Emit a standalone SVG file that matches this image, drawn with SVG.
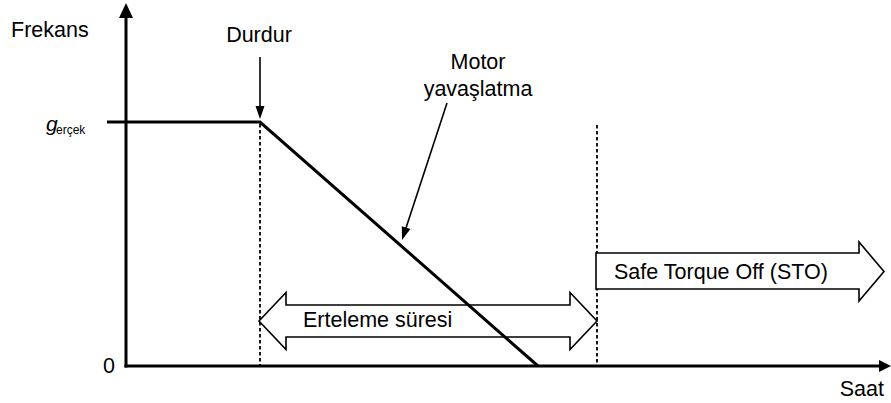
<svg xmlns="http://www.w3.org/2000/svg" width="891" height="403" viewBox="0 0 891 403">
<style>
text{font-family:"Liberation Sans",Arial,sans-serif;fill:#000}
.lbl{font-size:21.5px}
.ax{stroke:#000;stroke-width:3;fill:none}
.dot{stroke:#000;stroke-width:1.8;stroke-dasharray:3.5 2.5;fill:none}
.ln{stroke:#000;stroke-width:1.6;fill:none}
.big{fill:#fff;stroke:#000;stroke-width:1.6;stroke-linejoin:miter}
.hd{fill:#000;stroke:none}
</style>
<rect width="891" height="403" fill="#fff"/>
<g id="markers">
<line class="dot" x1="260" y1="124" x2="260" y2="365"/>
<line class="dot" x1="597" y1="125" x2="597" y2="365"/>
</g>
<g id="erteleme">
<polygon class="big" points="259,321 286,292.5 286,305 570,305 570,292.5 597,321 570,349.5 570,337 286,337 286,349.5"/>
<text class="lbl" x="303" y="327">Erteleme süresi</text>
</g>
<g id="sto">
<polygon class="big" points="596,253 859,253 859,242 884,271.5 859,301 859,289 596,289"/>
<text class="lbl" x="614" y="279">Safe Torque Off (STO)</text>
</g>
<g id="axes">
<line class="ax" x1="126" y1="367.5" x2="126" y2="16"/>
<polygon class="hd" points="119,18 133,18 126,3"/>
<line class="ax" x1="124.5" y1="366" x2="881" y2="366"/>
<polygon class="hd" points="879,360 891,366 879,372"/>
<text class="lbl" x="11" y="37">Frekans</text>
<text class="lbl" x="884" y="396" text-anchor="end">Saat</text>
<text class="lbl" x="115" y="373" text-anchor="end">0</text>
<text x="46" y="131" style="font-size:21px;font-style:italic">g</text>
<text x="56" y="134" style="font-size:12px">erçek</text>
</g>
<g id="curve">
<polyline class="ax" points="107,122 260,122 538,366"/>
</g>
<g id="durdur">
<text class="lbl" x="259" y="41.5" text-anchor="middle">Durdur</text>
</g>
<g id="motor">
<text class="lbl" x="478" y="69" text-anchor="middle">Motor</text>
<text class="lbl" x="478" y="96" text-anchor="middle">yavaşlatma</text>
</g>
<g id="connectors">
<line class="ln" x1="260" y1="57" x2="260" y2="108"/>
<polygon class="hd" points="255.5,106 264.5,106 260,119"/>
<line class="ln" x1="447" y1="103" x2="405" y2="231"/>
<polygon class="hd" points="410.4,229.1 401.8,226.2 402,240"/>
</g>
</svg>
